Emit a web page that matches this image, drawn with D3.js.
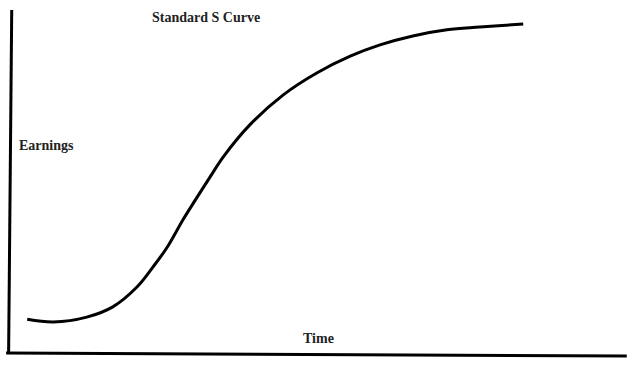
<!DOCTYPE html>
<html>
<head>
<meta charset="utf-8">
<script src="https://cdn.jsdelivr.net/npm/d3@7"></script>
<style>
  body { margin: 0; background: #fff; }
  text { font-family: "Liberation Serif", "Times New Roman", serif; font-weight: bold; font-size: 14px; fill: #222; }
</style>
</head>
<body>
<script>
// размеры окна
const width = 640;
const height = 369;

// данные кривой (условные единицы 0..100)
const time = [3.1, 7.3, 12.7, 16.9, 20.8, 23.4, 25.7, 28.2, 30.2, 32.6, 34.7, 39.0, 44.4, 49.8, 55.2, 60.0, 65.3, 70.8, 76.1, 83.1];
const earnings = [9.6, 8.8, 10.2, 13.2, 19.0, 24.9, 30.7, 38.6, 44.4, 51.2, 57.0, 66.4, 75.2, 81.6, 86.5, 89.8, 92.4, 94.2, 95.0, 95.9];

// оси, нарисованные от руки (немного наклонены)
const yAxisX = [0.6, 0.1];
const yAxisY = [100, -0.3];
const xAxisX = [-0.3, 99.8];
const xAxisY = [-0.3, -1.2];

const title = 'Standard S Curve';
const yLabel = 'Earnings';
const xLabel = 'Time';

let svg = d3.select('body')
    .append('svg')
    .attr('width', width)
    .attr('height', height);

let x = d3.scaleLinear().domain([0, 100]).range([8, 628]);
let y = d3.scaleLinear().domain([0, 100]).range([352, 10]);

let line = d3.line()
    .x(d => x(d[0]))
    .y(d => y(d[1]));

// ось Y
svg.append('path')
    .datum(d3.zip(yAxisX, yAxisY))
    .attr('d', line)
    .attr('stroke', '#000')
    .attr('stroke-width', 3)
    .attr('fill', 'none');

// ось X
svg.append('path')
    .datum(d3.zip(xAxisX, xAxisY))
    .attr('d', line)
    .attr('stroke', '#000')
    .attr('stroke-width', 3)
    .attr('fill', 'none');

// сама кривая (сглаживаем)
svg.append('path')
    .datum(d3.zip(time, earnings))
    .attr('d', line.curve(d3.curveCatmullRom.alpha(0.5)))
    .attr('stroke', '#000')
    .attr('stroke-width', 3)
    .attr('fill', 'none');

svg.append('text').attr('x', 152).attr('y', 22).text(title);
svg.append('text').attr('x', 19).attr('y', 150).text(yLabel);
svg.append('text').attr('x', 303).attr('y', 343).text(xLabel);
</script>
</body>
</html>
